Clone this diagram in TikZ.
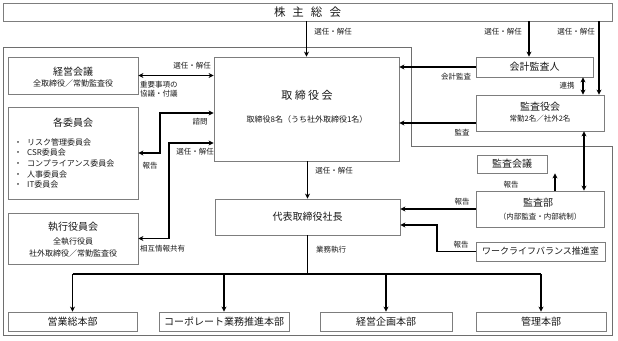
\documentclass[tikz,border=0pt]{standalone}
\usepackage{fontspec}
\setmainfont{Noto Sans CJK JP}
\usetikzlibrary{arrows.meta,shadows,calc}
\definecolor{boxgray}{RGB}{125,125,125}
\definecolor{txt}{RGB}{25,25,25}
\definecolor{framegray}{RGB}{110,110,110}
\begin{document}
\begin{tikzpicture}[x=1pt,y=-1pt,
  box/.style={draw=boxgray, fill=white, line width=0.8pt, inner sep=0pt, text=txt,
    font=\fontsize{10}{12}\selectfont,
    drop shadow={shadow xshift=1.2pt, shadow yshift=-1.2pt, fill=black!35, opacity=0.7}},
  ttl/.style={inner sep=0pt, text=txt, font=\fontsize{10}{12}\selectfont},
  subt/.style={inner sep=0pt, text=txt, font=\fontsize{7.5}{9}\selectfont},
  subw/.style={inner sep=0pt, text=txt, font=\fontsize{8}{9.5}\selectfont},
  lab/.style={inner sep=0pt, text=txt, font=\fontsize{7.5}{9}\selectfont},
  arr/.style={line width=1.1pt, -{Stealth[length=5pt,width=5pt]}},
  darr/.style={line width=1.1pt, {Stealth[length=5pt,width=5pt]}-{Stealth[length=5pt,width=5pt]}},
  busline/.style={line width=1.8pt},
  frameline/.style={draw=framegray, line width=0.8pt}
]
\useasboundingbox (0,0) rectangle (618,340);

% outer frame
\draw[frameline] (3,47) -- (411,47) -- (411,146) -- (612,146) -- (612,335) -- (3,335) -- cycle;

% boxes
\node[box, minimum width=609pt, minimum height=18pt] (kabu) at (307.5,12)
  {\fontsize{11.5}{13}\selectfont 株\hspace{7pt}主\hspace{7pt}総\hspace{7pt}会};

\node[box, minimum width=185pt, minimum height=104pt] (tori) at (306.5,109) {};
\node[ttl, font=\fontsize{11}{13}\selectfont] (toriT) at (307,95) {取\hspace{2.5pt}締\hspace{2.5pt}役\hspace{2.5pt}会};
\node[subw] (toriS) at (307,119) {取締役8名（うち社外取締役1名）};

\node[box, minimum width=130pt, minimum height=37pt] (keiei) at (73,75.5) {};
\node[ttl] (keieiT) at (73,72) {経営会議};
\node[subw] (keieiS) at (73,83.5) {全取締役／常勤監査役};

\node[box, minimum width=130pt, minimum height=92pt] (iin) at (73,153) {};
\node[ttl] (iinT) at (73,123) {各委員会};
\node[inner sep=0pt, text=txt, anchor=west, align=left, font=\fontsize{8}{10.7}\selectfont] (iinL) at (14,163.4)
  {・\hspace{5pt}リスク管理委員会\\・\hspace{5pt}CSR委員会\\・\hspace{5pt}コンプライアンス委員会\\・\hspace{5pt}人事委員会\\・\hspace{5pt}IT委員会};

\node[box, minimum width=130pt, minimum height=51pt] (shikko) at (73,238.5) {};
\node[ttl] (shikkoT) at (73,227) {執行役員会};
\node[subw] (shikkoS1) at (73,242) {全執行役員};
\node[subw] (shikkoS2) at (73,253) {社外取締役／常勤監査役};

\node[box, minimum width=185pt, minimum height=36pt] (daihyo) at (307.5,217) {代表取締役社長};

\node[box, minimum width=117pt, minimum height=20pt] (kaikei) at (534.5,67) {会計監査人};

\node[box, minimum width=128pt, minimum height=36pt] (kansayaku) at (540,113) {};
\node[ttl] (kansayakuT) at (540,107) {監査役会};
\node[subt] (kansayakuS) at (540,118.5) {常勤2名／社外2名};

\node[box, minimum width=70pt, minimum height=18pt] (kaigi) at (512,164) {監査会議};

\node[box, minimum width=128pt, minimum height=36pt] (kansabu) at (540,209) {};
\node[ttl] (kansabuT) at (538,203) {監査部};
\node[subt] (kansabuS) at (540,216.5) {（内部監査・内部統制）};

\node[box, minimum width=129pt, minimum height=19pt, font=\fontsize{9}{11}\selectfont] (wlb) at (540.5,251.5) {ワークライフバランス推進室};

\node[box, minimum width=129pt, minimum height=19pt] (eigyo) at (72.5,321.5) {営業総本部};
\node[box, minimum width=130pt, minimum height=19pt] (corp) at (224,321.5) {コーポレート業務推進本部};
\node[box, minimum width=132pt, minimum height=19pt] (kikaku) at (386,321.5) {経営企画本部};
\node[box, minimum width=130pt, minimum height=19pt] (kanri) at (541,321.5) {管理本部};

% helper coordinates
\coordinate (kk) at ([xshift=-5.5pt]kaikei.north);
\coordinate (ky) at ([xshift=59pt]kansayaku.north);
\coordinate (rk) at ([xshift=48.5pt]kaikei.south);
\coordinate (kya) at ([yshift=-10pt]kansayaku.west);
\coordinate (kb) at ([xshift=15pt]kansabu.north);
\coordinate (kyb) at ([xshift=44pt]kansayaku.south);
\coordinate (wt) at (437,225);
\coordinate (busY) at (307,274);
\coordinate (ia) at (160,113);
\coordinate (sa) at (169,143);

% connectors
\draw[arr] (tori.north |- kabu.south) -- (tori.north);
\draw[arr] (kk |- kabu.south) -- (kk);
\draw[arr] (ky |- kabu.south) -- (ky);
\draw[arr] (kaikei.west) -- (kaikei.west -| tori.east);
\draw[darr] (rk) -- (rk |- kansayaku.north);
\draw[arr] (kya) -- (kya -| tori.east);
\draw[arr] (kb) -- (kb |- kaigi.south);
\draw[darr] (kyb) -- (kyb |- kansabu.north);
\draw[arr] (kansabu.west) -- (kansabu.west -| daihyo.east);
\draw[arr] (wlb.west) -| (wt) -- (wt -| daihyo.east);
\draw[arr] (tori.south -| daihyo.north) -- (daihyo.north);

\draw[darr] (keiei.east) -- (keiei.east -| tori.west);
\draw[darr] (iin.east) -| (ia) -- (ia -| tori.west);
\draw[darr] (shikko.east) -| (sa) -- (sa -| tori.west);

\draw[busline] (daihyo.south) -- (daihyo.south |- busY);
\draw[busline] (eigyo.north |- busY) -- (kanri.north |- busY);
\draw[arr] (eigyo.north |- busY) -- (eigyo.north);
\draw[arr] (corp.north |- busY) -- (corp.north);
\draw[arr] (kikaku.north |- busY) -- (kikaku.north);
\draw[arr] (kanri.north |- busY) -- (kanri.north);

% labels
\node[lab] (l1) at (333,32) {選任・解任};
\node[lab] (l2) at (503,32) {選任・解任};
\node[lab] (l3) at (576,32) {選任・解任};
\node[lab] (l4) at (456,77) {会計監査};
\node[lab] (l5) at (567,86) {連携};
\node[lab] (l6) at (462,133) {監査};
\node[lab] (l7) at (511,185) {報告};
\node[lab] (l8) at (462,202) {報告};
\node[lab] (l9) at (461,245) {報告};
\node[lab] (l10) at (334,171) {選任・解任};
\node[lab] (l11) at (331,250) {業務執行};
\node[lab] (l12) at (192,66) {選任・解任};
\node[lab, anchor=west] (l13) at (140,85) {重要事項の};
\node[lab, anchor=west] (l14) at (140,94) {協議・付議};
\node[lab] (l15) at (200,122) {諮問};
\node[lab] (l16) at (150,166) {報告};
\node[lab] (l17) at (195,152) {選任・解任};
\node[lab, anchor=west] (l18) at (140,249) {相互情報共有};
\end{tikzpicture}
\end{document}
